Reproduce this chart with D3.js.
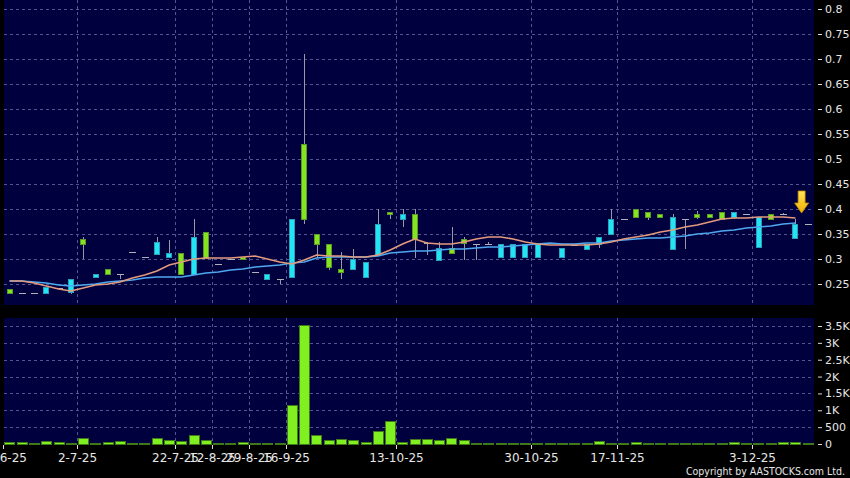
<!DOCTYPE html>
<html><head><meta charset="utf-8">
<script src="https://cdn.jsdelivr.net/npm/d3@7"></script>
<style>body{margin:0;background:#000;} svg{display:block;}</style>
</head><body><svg id="c" width="850" height="478"></svg>
<script>
const dates = [
 "23-6-25","24-6-25","25-6-25","26-6-25","27-6-25","30-6-25","2-7-25","4-7-25","8-7-25","10-7-25",
 "14-7-25","16-7-25","17-7-25","21-7-25","22-7-25","28-7-25","5-8-25","12-8-25","19-8-25","22-8-25",
 "29-8-25","4-9-25","10-9-25","16-9-25","17-9-25","18-9-25","19-9-25","22-9-25","25-9-25","30-9-25",
 "6-10-25","9-10-25","13-10-25","14-10-25","15-10-25","16-10-25","17-10-25","20-10-25","21-10-25","22-10-25",
 "23-10-25","24-10-25","27-10-25","30-10-25","31-10-25","4-11-25","6-11-25","10-11-25","12-11-25","14-11-25",
 "17-11-25","18-11-25","19-11-25","20-11-25","21-11-25","24-11-25","25-11-25","26-11-25","27-11-25","28-11-25",
 "2-12-25","3-12-25","4-12-25","5-12-25","8-12-25","9-12-25"];
const opens = [
 .232,.232,.232,.244,.242,.260,.330,.270,.270,.270,
 .314,.304,.334,.312,.270,.344,.302,.290,.300,.300,
 .274,.270,.260,.380,.380,.330,.284,.274,.300,.294,
 .370,.390,.390,.340,.332,.322,.312,.332,.330,.330,
 .330,.330,.330,.330,.332,.322,.328,.330,.344,.380,
 .380,.384,.384,.384,.384,.380,.384,.384,.380,.394,
 .390,.384,.380,.390,.370,.370];
const highs = [
 .240,.232,.232,.244,.242,.260,.344,.270,.280,.270,
 .314,.304,.344,.338,.312,.380,.354,.290,.300,.304,
 .274,.270,.260,.380,.710,.350,.330,.314,.320,.294,
 .400,.394,.400,.400,.334,.334,.364,.344,.330,.334,
 .330,.330,.330,.330,.332,.322,.328,.330,.344,.400,
 .380,.400,.394,.390,.390,.380,.396,.390,.394,.394,
 .390,.384,.390,.392,.380,.370];
const lows = [
 .232,.232,.232,.232,.242,.230,.300,.264,.270,.260,
 .314,.304,.310,.304,.270,.270,.302,.290,.300,.300,
 .274,.260,.250,.264,.370,.302,.278,.260,.280,.264,
 .308,.380,.364,.302,.308,.298,.312,.298,.298,.330,
 .304,.304,.304,.304,.332,.304,.328,.320,.322,.350,
 .380,.384,.378,.384,.320,.320,.380,.384,.380,.380,
 .390,.324,.380,.390,.340,.370];
const closes = [
 .240,.232,.232,.232,.242,.234,.340,.264,.280,.270,
 .314,.304,.310,.304,.312,.270,.354,.290,.300,.304,
 .274,.260,.260,.264,.530,.350,.330,.280,.280,.264,
 .308,.394,.380,.390,.332,.298,.322,.340,.330,.330,
 .304,.304,.304,.304,.332,.304,.328,.320,.330,.350,
 .380,.400,.394,.390,.320,.380,.390,.390,.394,.384,
 .390,.324,.390,.390,.342,.370];
const volumes = [
 50,30,10,70,40,10,160,10,50,80,
 10,10,160,100,80,260,90,10,10,40,
 10,10,10,1150,3520,260,110,140,110,40,
 370,670,50,130,130,100,170,110,10,10,
 10,10,10,10,10,10,10,10,60,10,
 10,50,10,10,10,10,10,10,10,40,
 10,20,10,40,50,10];
const maShort = [
 .256,.256,.252,.246,.240,.236,.242,.248,.250,.254,
 .262,.268,.276,.288,.294,.300,.302,.302,.302,.304,
 .306,.300,.294,.290,.298,.308,.306,.306,.304,.304,
 .308,.318,.330,.340,.332,.330,.330,.334,.340,.344,
 .344,.340,.334,.330,.328,.328,.328,.328,.330,.334,
 .340,.344,.348,.354,.358,.364,.368,.374,.380,.382,
 .382,.384,.384,.384,.382,null];
const maLong = [
 .256,.256,.254,.252,.248,.246,.248,.250,.254,.256,
 .258,.262,.264,.264,.264,.268,.272,.274,.278,.280,
 .284,.286,.288,.292,.294,.302,.304,.304,.304,.304,
 .306,.312,.314,.316,.316,.318,.320,.320,.322,.324,
 .324,.326,.328,.330,.332,.330,.330,.332,.332,.336,
 .338,.340,.342,.342,.344,.346,.350,.352,.356,.358,
 .362,.364,.366,.370,.372,null];
const tickDates = ["23-6-25","2-7-25","22-7-25","12-8-25","29-8-25","16-9-25","13-10-25","30-10-25","17-11-25","3-12-25"];
const priceTicks = [0.25,0.3,0.35,0.4,0.45,0.5,0.55,0.6,0.65,0.7,0.75,0.8];
const volTicks = [0,500,1000,1500,2000,2500,3000,3500];
const markerDate = "9-12-25";
const markerValue = 0.392;

const W = 850, H = 478;
const svg = d3.select("#c");
svg.append("rect").attr("width", W).attr("height", H).attr("fill", "#000");

const plotL = 4, plotR = 814;
const priceTop = 0, priceBot = 305, volTop = 318, volBot = 444;
const x = d3.scaleBand().domain(dates).range([3.4, 813.9]).padding(0);
const xc = d => x(d) + x.bandwidth() / 2;
const y = d3.scaleLinear().domain([0.208, 0.818]).range([priceBot, priceTop]);
const yv = d3.scaleLinear().domain([0, 3737]).range([volBot, volTop]);

const navy = "#00003f";
const gridCol = "#54548e";
svg.append("rect").attr("x", plotL).attr("y", priceTop).attr("width", plotR - plotL).attr("height", priceBot - priceTop).attr("fill", navy);
svg.append("rect").attr("x", plotL).attr("y", volTop).attr("width", plotR - plotL).attr("height", volBot - volTop).attr("fill", navy);

const grid = svg.append("g").attr("stroke", gridCol).attr("stroke-dasharray", "3,3").attr("shape-rendering", "crispEdges");
grid.selectAll(".hp").data(priceTicks).join("line")
  .attr("x1", plotL).attr("x2", plotR).attr("y1", d => Math.round(y(d)) + 0.5).attr("y2", d => Math.round(y(d)) + 0.5);
grid.selectAll(".hv").data(volTicks.filter(v => v > 0)).join("line").attr("class", "hv")
  .attr("x1", plotL).attr("x2", plotR).attr("y1", d => Math.round(yv(d)) + 0.5).attr("y2", d => Math.round(yv(d)) + 0.5);
tickDates.forEach(d => {
  const gx = Math.round(x(d)) + 0.5;
  if (gx > plotL + 2) {
    grid.append("line").attr("x1", gx).attr("x2", gx).attr("y1", priceTop).attr("y2", priceBot);
    grid.append("line").attr("x1", gx).attr("x2", gx).attr("y1", volTop).attr("y2", volBot);
  }
});

// candles
const idx = d3.range(dates.length);
const cw = 6;
const cg = svg.append("g").attr("shape-rendering", "crispEdges");
cg.selectAll(".wick").data(idx.filter(i => highs[i] !== lows[i])).join("line")
  .attr("x1", i => Math.round(xc(dates[i])) + 0.5).attr("x2", i => Math.round(xc(dates[i])) + 0.5)
  .attr("y1", i => y(highs[i])).attr("y2", i => y(lows[i]))
  .attr("stroke", "#9a9aa4").attr("stroke-width", 1);
cg.selectAll(".dash").data(idx.filter(i => opens[i] === closes[i])).join("line")
  .attr("x1", i => Math.round(xc(dates[i])) - 3).attr("x2", i => Math.round(xc(dates[i])) + 4)
  .attr("y1", i => Math.round(y(closes[i])) + 0.5).attr("y2", i => Math.round(y(closes[i])) + 0.5)
  .attr("stroke", "#b0b0b8").attr("stroke-width", 1);
cg.selectAll(".body").data(idx.filter(i => opens[i] !== closes[i])).join("rect")
  .attr("x", i => Math.round(xc(dates[i])) - 2.5)
  .attr("y", i => y(Math.max(opens[i], closes[i])))
  .attr("width", cw - 1)
  .attr("height", i => Math.max(1, Math.abs(y(opens[i]) - y(closes[i]))))
  .attr("fill", i => closes[i] > opens[i] ? "#84e41e" : "#22e4f4")
  .attr("stroke", i => closes[i] > opens[i] ? "#5a9a2a" : "#2aa0b8")
  .attr("stroke-width", 1);

// moving averages
const line = d3.line().defined(d => d != null).x((d, i) => xc(dates[i])).y(d => y(d));
svg.append("path").datum(maLong).attr("d", line).attr("fill", "none").attr("stroke", "#4ea8f0").attr("stroke-width", 1.6);
svg.append("path").datum(maShort).attr("d", line).attr("fill", "none").attr("stroke", "#e39a7c").attr("stroke-width", 1.6);

// marker arrow
const ax = x(markerDate), ay = y(markerValue);
const defs = svg.append("defs");
const lg = defs.append("linearGradient").attr("id", "ag").attr("x1", 0).attr("x2", 0).attr("y1", 0).attr("y2", 1);
lg.append("stop").attr("offset", "0%").attr("stop-color", "#ffe45a");
lg.append("stop").attr("offset", "100%").attr("stop-color", "#f0b000");
svg.append("path")
  .attr("d", `M${ax - 3.5},${ay - 22} L${ax + 3.5},${ay - 22} L${ax + 3.5},${ay - 10} L${ax + 7},${ay - 10} L${ax},${ay} L${ax - 7},${ay - 10} L${ax - 3.5},${ay - 10} Z`)
  .attr("fill", "url(#ag)").attr("stroke", "#c88a00").attr("stroke-width", 0.8);

// volume bars
svg.append("g").attr("shape-rendering", "crispEdges").selectAll("rect").data(idx).join("rect")
  .attr("x", i => Math.round(x(dates[i])) + 1.5)
  .attr("y", i => yv(volumes[i]))
  .attr("width", Math.round(x.bandwidth()) - 2)
  .attr("height", i => volBot - yv(volumes[i]))
  .attr("fill", "#80f020").attr("stroke", "#3e7a18").attr("stroke-width", 1);

// right axes
const fmtVol = v => v === 0 ? "0" : (v < 1000 ? String(v) : (v / 1000) + "K");
const pa = svg.append("g").attr("transform", `translate(818,0)`)
  .call(d3.axisRight(y).tickValues(priceTicks).tickSize(4).tickPadding(3).tickFormat(d => String(+d.toFixed(2))));
const va = svg.append("g").attr("transform", `translate(818,0)`)
  .call(d3.axisRight(yv).tickValues(volTicks).tickSize(4).tickPadding(3).tickFormat(fmtVol));
[pa, va].forEach(g => {
  g.select(".domain").remove();
  g.selectAll("line").attr("stroke", "#dcdcdc");
  g.selectAll("text").attr("fill", "#e6e6e6").attr("font-family", "DejaVu Sans, sans-serif").attr("font-size", 11);
});

// bottom axis
const xa = svg.append("g");
tickDates.forEach(d => {
  const tx = Math.round(x(d)) + 0.5;
  xa.append("line").attr("x1", tx).attr("x2", tx).attr("y1", volBot + 1).attr("y2", volBot + 5).attr("stroke", "#dcdcdc");
  xa.append("text").attr("x", tx).attr("y", 462).attr("text-anchor", "middle")
    .attr("fill", "#e6e6e6").attr("font-family", "DejaVu Sans, sans-serif").attr("font-size", 12).text(d);
});

svg.append("text").attr("x", 845).attr("y", 475).attr("text-anchor", "end")
  .attr("fill", "#e6e6e6").attr("font-family", "DejaVu Sans, sans-serif").attr("font-size", 11)
  .attr("textLength", 159).attr("lengthAdjust", "spacingAndGlyphs")
  .text("Copyright by AASTOCKS.com Ltd.");
</script>
</body></html>
